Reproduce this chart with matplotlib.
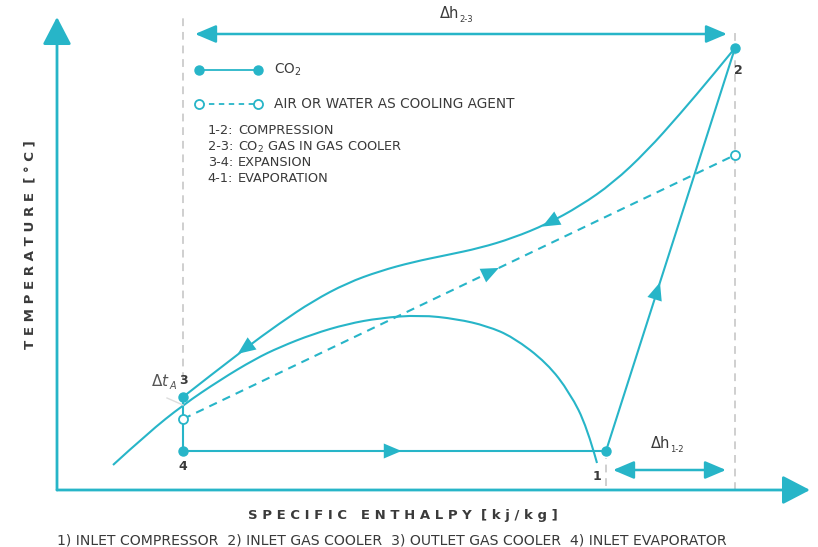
import numpy as np
import matplotlib.pyplot as plt
from matplotlib.path import Path
from matplotlib.patches import PathPatch

# -----------------------
# COLOURS / FONT
# -----------------------
TEAL = "#27b5c8"
TXT = "#3a3a3a"
GRID = "#cfcfcf"
plt.rcParams["font.family"] = ["DejaVu Sans"]

# -----------------------
# STATE POINTS (enthalpy h, temperature T) - schematic units
# -----------------------
pt_h = [549, 678, 126, 126]          # points 1, 2, 3, 4
pt_T = [39, 442, 93, 39]
point_labels = ["1", "2", "3", "4"]

# gas cooler curve 2 -> 3
gc_h = [678, 656, 623, 590, 556, 523, 490, 456, 423, 390, 356, 323, 290, 256, 223, 186, 126]
gc_T = [442, 415, 376, 339, 307, 284, 266, 252, 242, 235, 228, 219, 207, 189, 167, 140, 93]

# saturation dome
dome_h = [56, 91, 126, 163, 198, 223, 256, 290, 323, 363, 400, 430, 456, 490, 513, 530, 540]
dome_T = [25, 57, 85, 110, 131, 143, 156, 166, 172, 175, 171, 164, 153, 127, 97, 63, 27]

# cooling agent (air / water)
air_h = [126, 678]
air_T = [71, 335]

legend_items = ["CO$_2$", "AIR OR WATER AS COOLING AGENT"]
process_codes = ["1-2:", "2-3:", "3-4:", "4-1:"]
process_names = ["COMPRESSION", "CO$_2$ GAS IN GAS COOLER", "EXPANSION", "EVAPORATION"]
footnote = "1) INLET COMPRESSOR  2) INLET GAS COOLER  3) OUTLET GAS COOLER  4) INLET EVAPORATOR"


def smooth_curve(ax, hs, ts, **kw):
    # quadratic bezier path through the midpoints, controlled by the read points
    pts = np.column_stack([hs, ts]).astype(float)
    verts = [pts[0]]
    codes = [Path.MOVETO]
    for i in range(1, len(pts) - 1):
        mid = (pts[i] + pts[i + 1]) / 2 if i < len(pts) - 2 else pts[i + 1]
        verts += [pts[i], mid]
        codes += [Path.CURVE3, Path.CURVE3]
    ax.add_patch(PathPatch(Path(verts, codes), fill=False, **kw))


def arrow_on(ax, hs, ts, h0, size=13):
    # place a filled arrow head on the polyline at enthalpy h0
    hs = np.asarray(hs, float)
    ts = np.asarray(ts, float)
    for i in range(len(hs) - 1):
        a, b = hs[i], hs[i + 1]
        if min(a, b) <= h0 <= max(a, b) and a != b:
            f = (h0 - a) / (b - a)
            p = np.array([a + f * (b - a), ts[i] + f * (ts[i + 1] - ts[i])])
            d = np.array([b - a, ts[i + 1] - ts[i]])
            d = d / np.hypot(*d)
            ax.annotate("", xy=p + d * size / 2, xytext=p - d * size / 2,
                        arrowprops=dict(arrowstyle="-|>,head_length=0.85,head_width=0.36",
                                        mutation_scale=15, color=TEAL, lw=0,
                                        shrinkA=0, shrinkB=0))
            return


def double_arrow(ax, h1, h2, t):
    ax.annotate("", xy=(h2, t), xytext=(h1, t),
                arrowprops=dict(arrowstyle="<|-|>,head_length=0.85,head_width=0.36",
                                mutation_scale=15, color=TEAL, lw=1.8,
                                shrinkA=0, shrinkB=0))


fig = plt.figure(figsize=(8.18, 5.47), dpi=100)
ax = fig.add_axes([0, 0, 1, 1])
ax.set_xlim(-57, 761)
ax.set_ylim(-57, 490)
ax.axis("off")

# -----------------------
# AXES WITH ARROWS
# -----------------------
ax_kw = dict(arrowstyle="-|>,head_length=1.0,head_width=0.52", mutation_scale=17,
             color=TEAL, lw=2, shrinkA=0, shrinkB=0)
ax.annotate("", xy=(0, 473), xytext=(0, 0), arrowprops=ax_kw)
ax.annotate("", xy=(753, 0), xytext=(0, 0), arrowprops=ax_kw)

# guide lines
gkw = dict(color=GRID, lw=1.4, dashes=(4, 3), zorder=1)
ax.plot([pt_h[2], pt_h[2]], [110, 472], **gkw)
ax.plot([pt_h[1], pt_h[1]], [0, 462], **gkw)
ax.plot([pt_h[0], pt_h[0]], [4, 32], **gkw)

# -----------------------
# CYCLE
# -----------------------
lw = 1.5
smooth_curve(ax, dome_h, dome_T, color=TEAL, lw=lw)
smooth_curve(ax, gc_h, gc_T, color=TEAL, lw=lw)
ax.plot([pt_h[0], pt_h[1]], [pt_T[0], pt_T[1]], color=TEAL, lw=lw)
ax.plot([pt_h[2], pt_h[3]], [pt_T[2], pt_T[3]], color=TEAL, lw=lw)
ax.plot([pt_h[3], pt_h[0]], [pt_T[3], pt_T[0]], color=TEAL, lw=lw)
ax.plot(air_h, air_T, color=TEAL, lw=lw, dashes=(4, 3))
ax.plot(air_h, air_T, "o", ms=6.5, mfc="white", mec=TEAL, mew=1.3, zorder=4)
ax.plot(pt_h, pt_T, "o", ms=6.5, color=TEAL, zorder=4)

arrow_on(ax, gc_h, gc_T, 491)
arrow_on(ax, gc_h, gc_T, 186)
arrow_on(ax, air_h, air_T, 436)
arrow_on(ax, [pt_h[0], pt_h[1]], [pt_T[0], pt_T[1]], 601)
arrow_on(ax, [pt_h[3], pt_h[0]], [pt_T[3], pt_T[0]], 338)

# point labels
lab_off = [(-9, -25), (3, -22), (0, 16), (0, -16)]
for h, t, s, (dx, dy) in zip(pt_h, pt_T, point_labels, lab_off):
    ax.text(h + dx, t + dy, s, ha="center", va="center", fontsize=9,
            fontweight="bold", color=TXT)

# -----------------------
# DIMENSION ARROWS
# -----------------------
double_arrow(ax, 138, 670, 456)
ax.text(402, 476, "Δh", ha="right", va="center", fontsize=10.5, color=TXT)
ax.text(402, 471, "2-3", ha="left", va="center", fontsize=6, color=TXT)

double_arrow(ax, 556, 669, 20)
ax.text(613, 46, "Δh", ha="right", va="center", fontsize=10.5, color=TXT)
ax.text(613, 41, "1-2", ha="left", va="center", fontsize=6, color=TXT)

ax.plot([110, 126], [92, 85], color="#dddddd", lw=1)
ax.text(113, 109, "Δ$\\it{t}$", ha="right", va="center", fontsize=11, color="#555555")
ax.text(113, 104, "A", ha="left", va="center", fontsize=7, style="italic", color="#555555")

# -----------------------
# LEGEND
# -----------------------
ax.plot([142, 201], [420, 420], "-o", color=TEAL, lw=1.3, ms=6.5)
ax.plot([142, 201], [386, 386], color=TEAL, lw=1.3, dashes=(3, 2.5))
ax.plot([142, 201], [386, 386], "o", ms=6.5, mfc="white", mec=TEAL, mew=1.3)
for t, s in zip([420, 386], legend_items):
    ax.text(217, t, s, ha="left", va="center", fontsize=9.8, color=TXT)

for i, (c, s) in enumerate(zip(process_codes, process_names)):
    t = 359 - 16 * i
    ax.text(176, t, c, ha="right", va="center", fontsize=9.3, color=TXT)
    ax.text(181, t, s, ha="left", va="center", fontsize=9.3, color=TXT)

# -----------------------
# AXIS TITLES
# -----------------------
ax.text(-27, 245, " ".join("TEMPERATURE") + "  [ ° C ]", rotation=90, ha="center",
        va="center", fontsize=9.6, fontweight="bold", color=TXT)
ax.text(346, -25, " ".join("SPECIFIC") + "   " + " ".join("ENTHALPY") + "  [ k j / k g ]",
        ha="center", va="center", fontsize=9.5, fontweight="bold", color=TXT)
ax.text(0, -50, footnote, ha="left", va="center", fontsize=10.1, color=TXT)

fig.savefig("out.png", dpi=100)
